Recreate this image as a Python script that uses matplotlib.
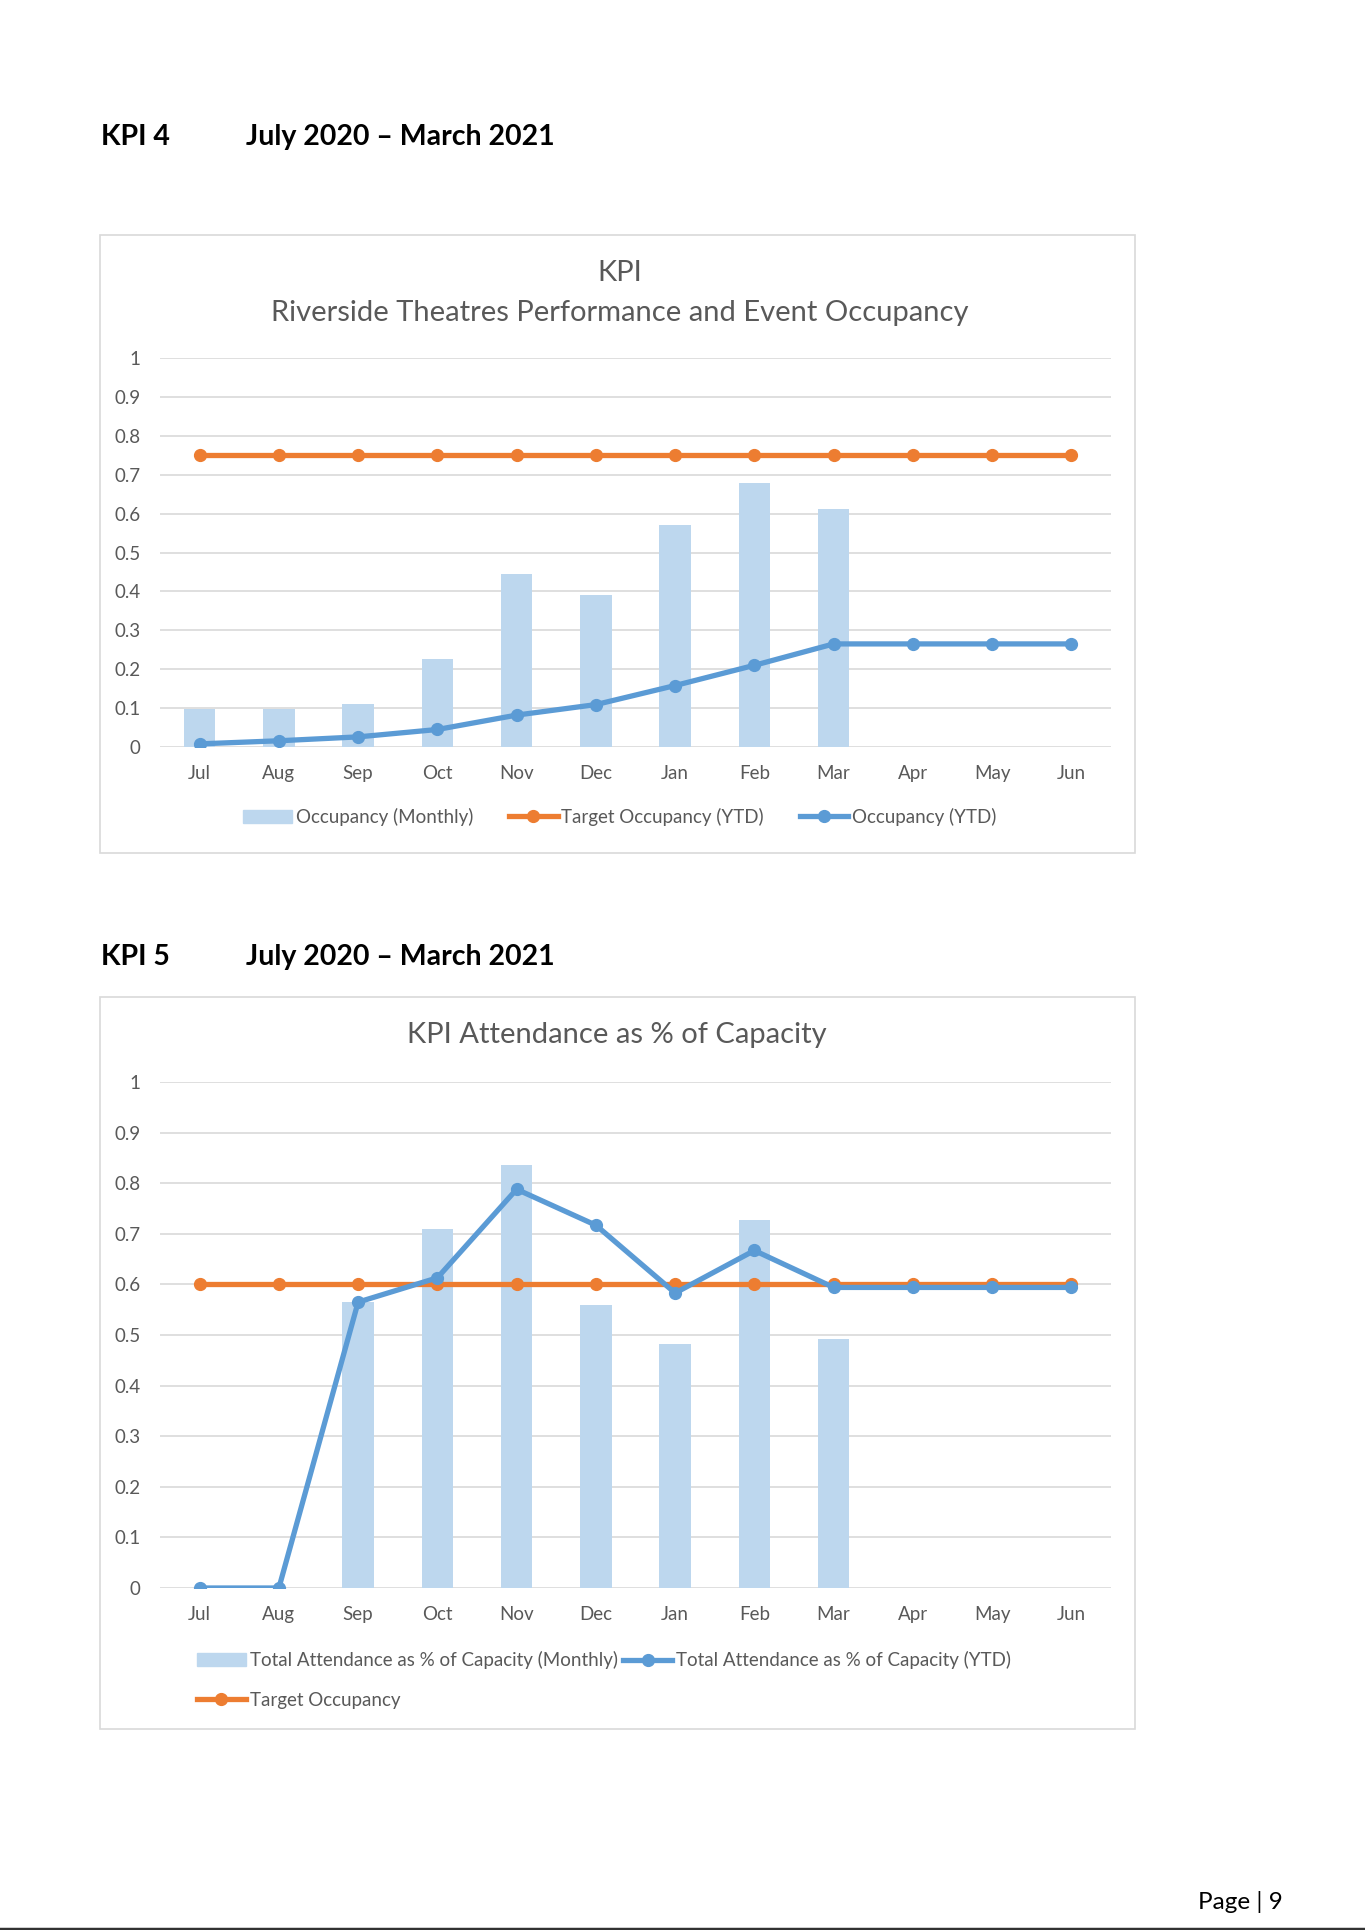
import matplotlib.pyplot as plt
from matplotlib.patches import Rectangle, Patch
from matplotlib.lines import Line2D

plt.rcParams['font.family'] = ['Lato', 'DejaVu Sans']

months = ["Jul", "Aug", "Sep", "Oct", "Nov", "Dec", "Jan", "Feb", "Mar", "Apr", "May", "Jun"]

# KPI 4 - occupancy
occ_monthly = [0.097, 0.097, 0.11, 0.225, 0.445, 0.39, 0.57, 0.678, 0.612]
occ_target = [0.75] * 12
occ_ytd = [0.008, 0.016, 0.026, 0.045, 0.082, 0.109, 0.158, 0.21, 0.265, 0.265, 0.265, 0.265]

# KPI 5 - attendance
att_monthly = [0, 0, 0.565, 0.71, 0.835, 0.56, 0.483, 0.728, 0.492]
att_ytd = [0, 0, 0.565, 0.613, 0.788, 0.717, 0.583, 0.667, 0.594, 0.594, 0.594, 0.594]
att_target = [0.6] * 12

yticks = [0, 0.1, 0.2, 0.3, 0.4, 0.5, 0.6, 0.7, 0.8, 0.9, 1]
ytick_labels = ["0", "0.1", "0.2", "0.3", "0.4", "0.5", "0.6", "0.7", "0.8", "0.9", "1"]

W, H = 1365, 1930
BAR = "#BDD7EE"
ORANGE = "#ED7D31"
BLUE = "#5B9BD5"
GREY = "#595959"
GRID = "#D9D9D9"
FS = 13.5
LW = 3.8
MS = 8.5

fig = plt.figure(figsize=(W / 100, H / 100), dpi=100)


def box(x0, y0, x1, y1):
    # rectangle in pixel coords (top-left origin)
    return [x0 / W, 1 - y1 / H, (x1 - x0) / W, (y1 - y0) / H]


def style_axes(ax):
    ax.set_xlim(-0.5, 11.5)
    ax.set_ylim(0, 1)
    ax.set_yticks(yticks)
    ax.set_yticklabels(ytick_labels)
    ax.set_xticks(range(12))
    ax.set_xticklabels(months)
    ax.tick_params(length=0, labelsize=FS, colors=GREY)
    ax.tick_params(axis="y", pad=14)
    ax.tick_params(axis="x", pad=13)
    for s in ax.spines.values():
        s.set_visible(False)
    ax.grid(axis="y", color=GRID, linewidth=1.2)
    ax.set_axisbelow(True)
    ax.patch.set_alpha(0)


# chart frames
for y0, y1 in [(235, 853), (997, 1729)]:
    fig.patches.append(Rectangle((100 / W, 1 - y1 / H), 1035 / W, (y1 - y0) / H,
                                 transform=fig.transFigure, fill=False,
                                 edgecolor=GRID, linewidth=1.2))

# headings
for yh, label in [(137, "KPI 4"), (957, "KPI 5")]:
    fig.text(101 / W, 1 - yh / H, label, fontsize=20.5, fontweight="bold", va="center")
    fig.text(246 / W, 1 - yh / H, "July 2020 \u2013 March 2021", fontsize=20.5,
             fontweight="bold", va="center")
fig.text(1283 / W, 1 - 1902 / H, "Page | 9", fontsize=17.5, ha="right", va="center")
fig.add_artist(Line2D([0, 1], [1.5 / H, 1.5 / H], transform=fig.transFigure,
                      color="#333333", linewidth=2.5))

# ---- chart 1
ax1 = fig.add_axes(box(160, 358, 1111, 747))
style_axes(ax1)
ax1.bar(range(len(occ_monthly)), occ_monthly, width=0.4, color=BAR)
ax1.plot(range(12), occ_target, color=ORANGE, linewidth=LW, marker="o", markersize=MS)
ax1.plot(range(12), occ_ytd, color=BLUE, linewidth=LW, marker="o", markersize=MS)
fig.text(620 / W, 1 - 273 / H, "KPI", fontsize=21, color=GREY, ha="center", va="center")
fig.text(620 / W, 1 - 313 / H, "Riverside Theatres Performance and Event Occupancy",
         fontsize=21, color=GREY, ha="center", va="center")

h1 = [Patch(color=BAR),
      Line2D([], [], color=ORANGE, linewidth=LW, marker="o", markersize=MS),
      Line2D([], [], color=BLUE, linewidth=LW, marker="o", markersize=MS)]
ax1.legend(h1, ["Occupancy (Monthly)", "Target Occupancy (YTD)", "Occupancy (YTD)"],
           loc="center", bbox_to_anchor=((620 - 160) / 951, (747 - 817) / (747 - 358)), ncol=3,
           frameon=False, fontsize=FS, labelcolor=GREY, handlelength=2.6,
           handletextpad=0.2, columnspacing=1.9, borderpad=0, borderaxespad=0)

# ---- chart 2
ax2 = fig.add_axes(box(160, 1082, 1111, 1588))
style_axes(ax2)
ax2.bar(range(len(att_monthly)), att_monthly, width=0.4, color=BAR)
ax2.plot(range(12), att_target, color=ORANGE, linewidth=LW, marker="o", markersize=MS, zorder=3)
ax2.plot(range(12), att_ytd, color=BLUE, linewidth=LW, marker="o", markersize=MS, zorder=4)
fig.text(617 / W, 1 - 1035 / H, "KPI Attendance as % of Capacity",
         fontsize=21, color=GREY, ha="center", va="center")

h2 = [Patch(color=BAR),
      Line2D([], [], color=ORANGE, linewidth=LW, marker="o", markersize=MS),
      Line2D([], [], color=BLUE, linewidth=LW, marker="o", markersize=MS)]
ax2.legend(h2, ["Total Attendance as % of Capacity (Monthly)", "Target Occupancy",
                "Total Attendance as % of Capacity (YTD)"],
           loc="center left", bbox_to_anchor=((197 - 160) / 951, (1588 - 1680) / (1588 - 1082)),
           ncol=2, frameon=False, fontsize=FS, labelcolor=GREY, handlelength=2.6,
           handletextpad=0.2, columnspacing=0.3, labelspacing=1.2, borderpad=0, borderaxespad=0)

fig.savefig("out.png", dpi=100)
